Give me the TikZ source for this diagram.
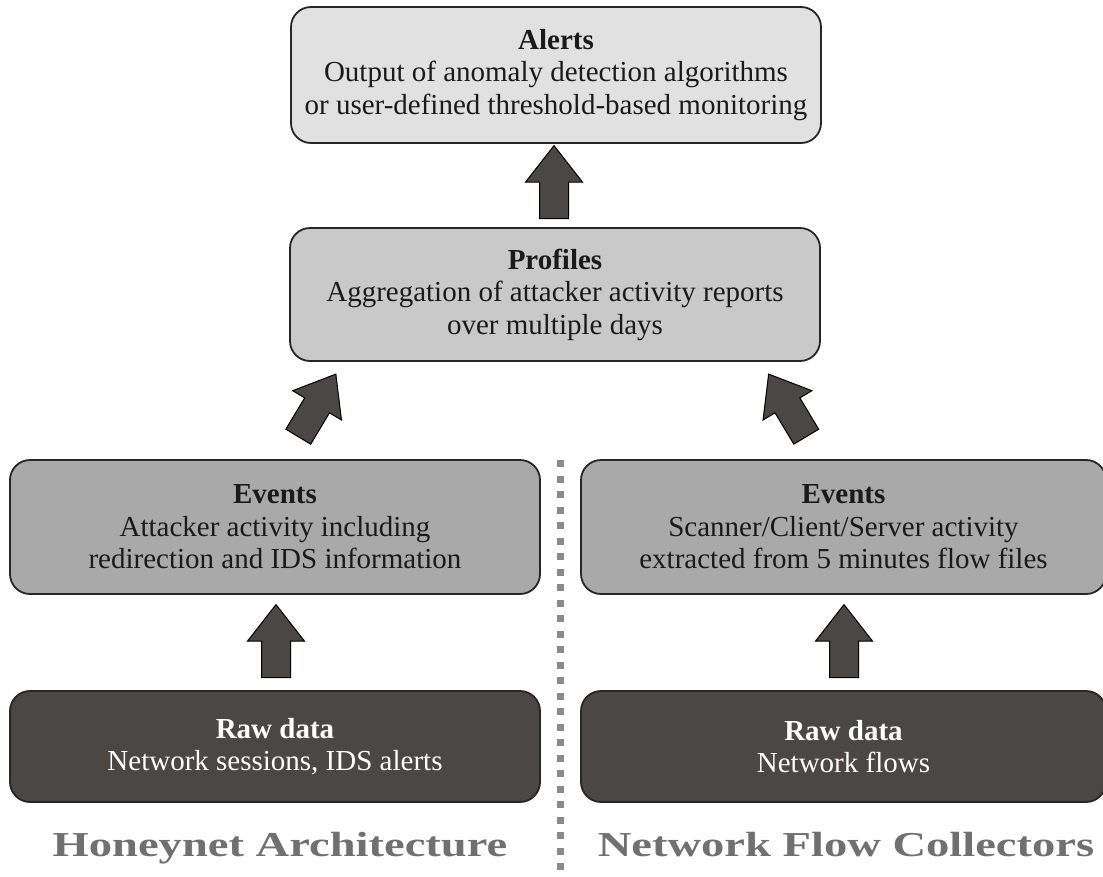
\documentclass[tikz,border=0pt]{standalone}
\usepackage{fontspec}
\setmainfont{Liberation Serif}
\usetikzlibrary{shapes.arrows,calc}

\definecolor{alertfill}{HTML}{E1E1E1}
\definecolor{profilefill}{HTML}{C9C9C9}
\definecolor{eventfill}{HTML}{A9A9A9}
\definecolor{rawfill}{HTML}{4A4745}
\definecolor{edgecol}{HTML}{262626}
\definecolor{titlegray}{HTML}{707070}
\definecolor{sepgray}{HTML}{8A8A8A}
\definecolor{inkcol}{HTML}{1A1A1A}

\tikzset{
  layerbox/.style={draw=edgecol, line width=1.8pt, rounded corners=20pt,
    minimum width=530pt, align=center, text=inkcol, inner sep=0pt,
    font=\fontsize{29}{32.5}\selectfont},
  rawbox/.style={layerbox, fill=rawfill, text=white, minimum height=111pt},
  eventbox/.style={layerbox, fill=eventfill, minimum height=134pt},
  blockarrow/.style={single arrow, draw=black, line width=1pt, fill=rawfill,
    minimum height=73pt, inner xsep=0pt, inner ysep=14pt, anchor=tail,
    single arrow head extend=14pt, single arrow tip angle=76},
  sidetitle/.style={anchor=base, text=titlegray,
    font=\fontsize{35}{40}\selectfont\bfseries},
}

\begin{document}
\begin{tikzpicture}[x={(1pt,0)}, y={(0,-1pt)}]
  \useasboundingbox (0,0) rectangle (1103,876);

  % stacked layers
  \node[layerbox, fill=alertfill, minimum height=136pt] (alerts) at (556,75)
    {\textbf{Alerts}\\Output of anomaly detection algorithms\\or user-defined threshold-based monitoring};
  \node[layerbox, fill=profilefill, minimum height=133pt] (profiles) at (555,294.5)
    {\textbf{Profiles}\\Aggregation of attacker activity reports\\over multiple days};

  \node[eventbox] (evL) at (275,527)
    {\textbf{Events}\\Attacker activity including\\redirection and IDS information};
  \node[eventbox, minimum width=525pt] (evR) at (843.5,527)
    {\textbf{Events}\\Scanner/Client/Server activity\\extracted from 5 minutes flow files};

  \node[rawbox] (rawL) at (275,746.5)
    {\textbf{Raw data}\\Network sessions, IDS alerts};
  \node[rawbox, minimum width=525pt] (rawR) at (843.5,746.5)
    {\textbf{Raw data}\\Network flows};

  % block arrows between layers, placed by their tails
  \node[blockarrow, rotate=90] (upTop) at ($(profiles.north)+(-1,-8)$) {};
  \node[blockarrow, rotate=59] (upDiagL) at ($(evL.north)+(23,-22)$) {};
  \node[blockarrow, rotate=121] (upDiagR) at ($(evR.north)+(-37,-22)$) {};
  \node[blockarrow, rotate=90] (upL) at ($(rawL.north)+(1,-12)$) {};
  \node[blockarrow, rotate=90] (upR) at ($(rawR.north)+(0.5,-12)$) {};

  % separator between the two data sources
  \coordinate (sepTop) at (560,460);
  \coordinate (sepBot) at (560,876);
  \draw[sepgray, line width=7pt, dash pattern=on 7.3pt off 8.2pt] (sepTop) -- (sepBot);

  % source titles
  \node[sidetitle] (ttlL) at (280,856) {\scalebox{1.33}[1]{Honeynet Architecture}};
  \node[sidetitle] (ttlR) at (846,856) {\scalebox{1.33}[1]{Network Flow Collectors}};
\end{tikzpicture}
\end{document}
